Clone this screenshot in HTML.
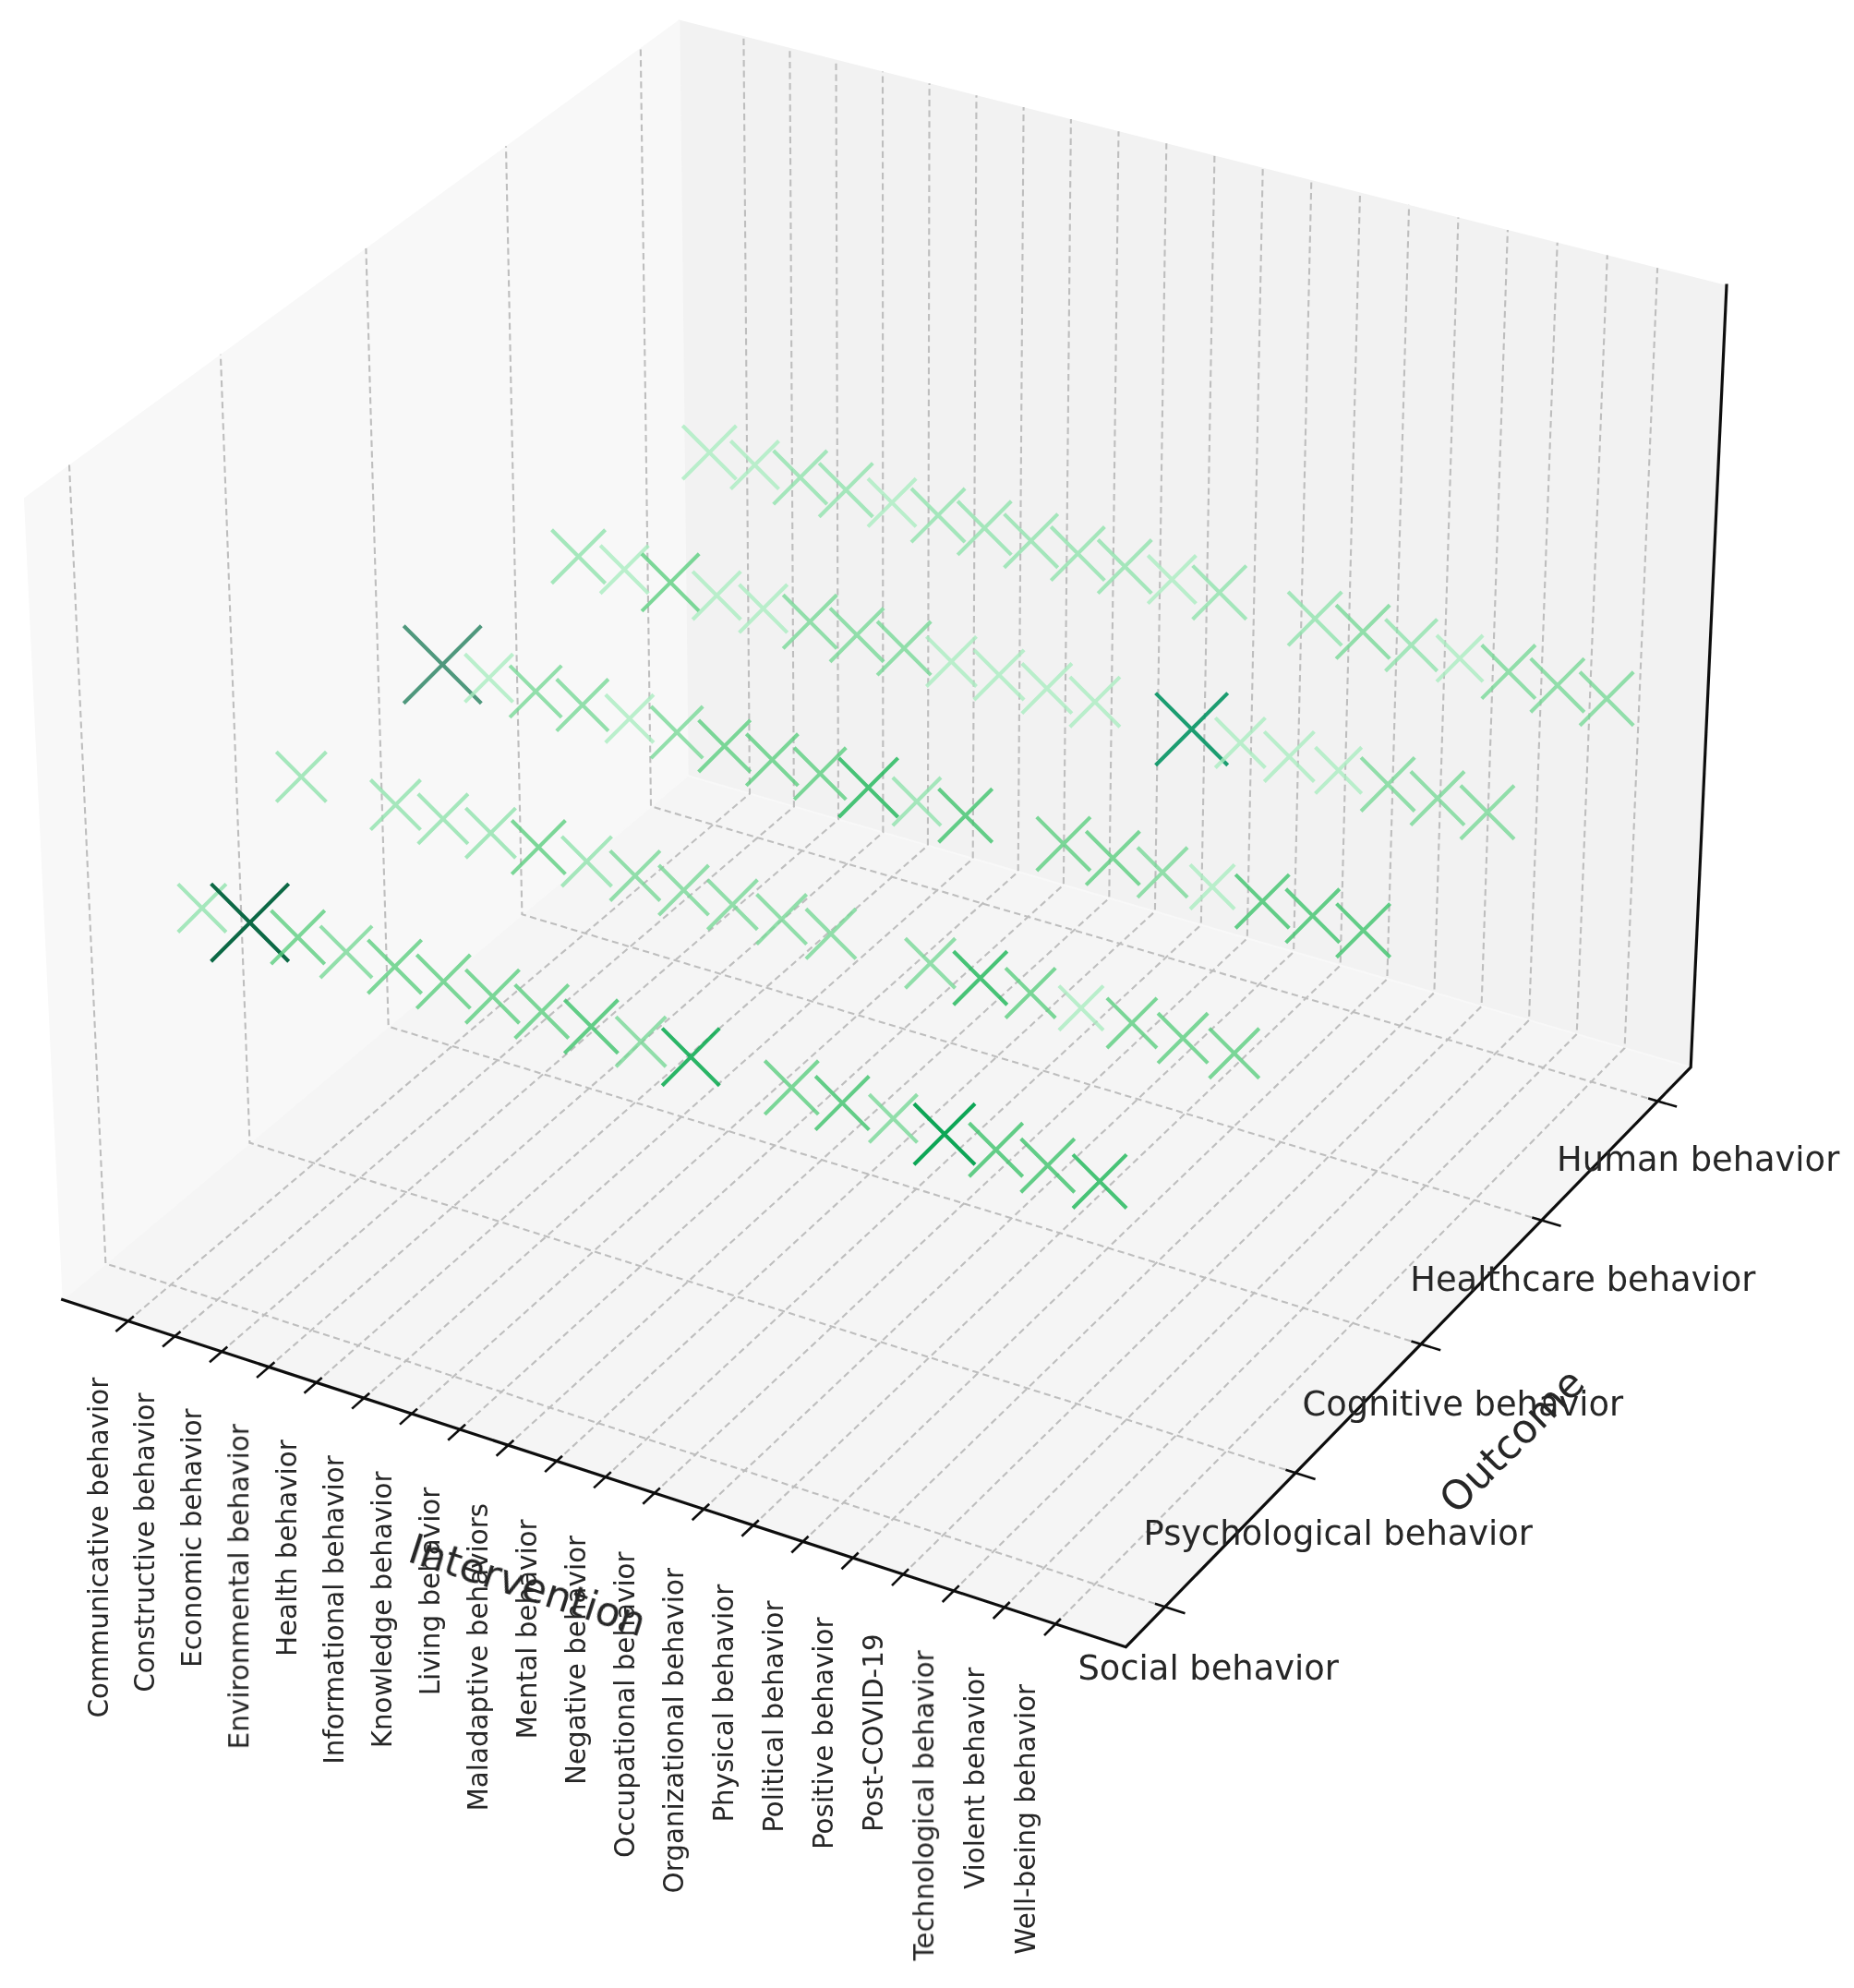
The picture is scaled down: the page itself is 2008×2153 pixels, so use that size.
<!DOCTYPE html>
<html><head><meta charset="utf-8"><title>3D scatter</title>
<style>html,body{margin:0;padding:0;background:#fff}svg{display:block}text{font-family:"DejaVu Sans","Liberation Sans",sans-serif;fill:#262626}</style></head><body>
<svg width="2008" height="2153" viewBox="0 0 2008 2153">
<defs><filter id="soft" x="0" y="0" width="2008" height="2153" filterUnits="userSpaceOnUse"><feGaussianBlur stdDeviation="0.75"/></filter></defs>
<rect width="2008" height="2153" fill="#ffffff"/>
<g filter="url(#soft)">
<polygon points="67.7,1407.5 25.9,539.3 735.4,21.5 744.8,840.0" fill="#f8f8f8"/>
<polygon points="744.8,840.0 735.4,21.5 1870.0,309.1 1831.2,1155.8" fill="#f2f2f2"/>
<polygon points="67.7,1407.5 744.8,840.0 1831.2,1155.8 1219.4,1783.7" fill="#f5f5f5"/>
<g fill="none" stroke="#f8f8f8" stroke-width="2">
<polyline points="67.7,1407.5 744.8,840.0 1831.2,1155.8"/>
<line x1="744.8" y1="840.0" x2="735.4" y2="21.5"/>
</g>
<g fill="none" stroke="#bebebe" stroke-width="2.1" stroke-dasharray="7.2 4.4">
<polyline points="138.6,1430.7 812.0,859.5 805.4,39.3"/>
<polyline points="189.2,1447.2 859.9,873.5 855.4,51.9"/>
<polyline points="240.1,1463.8 908.0,887.4 905.5,64.7"/>
<polyline points="291.2,1480.5 956.4,901.5 956.0,77.4"/>
<polyline points="342.5,1497.3 1004.9,915.6 1006.6,90.3"/>
<polyline points="394.1,1514.1 1053.7,929.8 1057.5,103.2"/>
<polyline points="446.0,1531.1 1102.7,944.0 1108.6,116.1"/>
<polyline points="498.0,1548.1 1151.9,958.3 1159.9,129.1"/>
<polyline points="550.4,1565.2 1201.3,972.7 1211.5,142.2"/>
<polyline points="603.0,1582.3 1250.9,987.1 1263.3,155.3"/>
<polyline points="655.8,1599.6 1300.8,1001.6 1315.4,168.5"/>
<polyline points="708.9,1616.9 1350.8,1016.2 1367.7,181.8"/>
<polyline points="762.3,1634.4 1401.1,1030.8 1420.3,195.1"/>
<polyline points="815.9,1651.9 1451.7,1045.5 1473.0,208.5"/>
<polyline points="869.8,1669.5 1502.4,1060.2 1526.1,221.9"/>
<polyline points="923.9,1687.2 1553.4,1075.0 1579.4,235.5"/>
<polyline points="978.3,1704.9 1604.6,1089.9 1632.9,249.0"/>
<polyline points="1033.0,1722.8 1656.0,1104.9 1686.7,262.7"/>
<polyline points="1087.9,1740.7 1707.7,1119.9 1740.8,276.4"/>
<polyline points="1143.2,1758.8 1759.6,1135.0 1795.1,290.1"/>
<polyline points="1261.7,1740.2 114.4,1368.4 75.0,503.5"/>
<polyline points="1403.1,1595.1 270.4,1237.6 238.9,383.8"/>
<polyline points="1539.0,1455.7 420.7,1111.7 396.4,268.9"/>
<polyline points="1669.7,1321.6 565.4,990.3 548.0,158.3"/>
<polyline points="1795.4,1192.5 705.0,873.3 693.8,51.8"/>
</g>
<g fill="none" stroke-linecap="butt" stroke-width="4.1">
<path d="M739.3 461.0L797.4 519.1M739.3 519.1L797.4 461.0" stroke="#aaecc0" stroke-opacity="0.80"/>
<path d="M791.4 477.5L843.5 529.6M791.4 529.6L843.5 477.5" stroke="#aaecc0" stroke-opacity="0.80"/>
<path d="M837.7 488.0L895.8 546.1M837.7 546.1L895.8 488.0" stroke="#90e2ac" stroke-opacity="0.80"/>
<path d="M887.2 501.6L945.3 559.7M887.2 559.7L945.3 501.6" stroke="#90e2ac" stroke-opacity="0.80"/>
<path d="M940.0 518.3L992.1 570.4M940.0 570.4L992.1 518.3" stroke="#aaecc0" stroke-opacity="0.80"/>
<path d="M987.0 529.0L1045.1 587.1M987.0 587.1L1045.1 529.0" stroke="#90e2ac" stroke-opacity="0.80"/>
<path d="M1037.2 542.8L1095.3 600.9M1037.2 600.9L1095.3 542.8" stroke="#90e2ac" stroke-opacity="0.80"/>
<path d="M1087.6 556.6L1145.7 614.7M1087.6 614.7L1145.7 556.6" stroke="#90e2ac" stroke-opacity="0.80"/>
<path d="M1138.3 570.5L1196.4 628.6M1138.3 628.6L1196.4 570.5" stroke="#90e2ac" stroke-opacity="0.80"/>
<path d="M597.5 573.7L655.6 631.8M597.5 631.8L655.6 573.7" stroke="#90e2ac" stroke-opacity="0.80"/>
<path d="M1189.2 584.5L1247.3 642.6M1189.2 642.6L1247.3 584.5" stroke="#90e2ac" stroke-opacity="0.80"/>
<path d="M650.2 590.7L702.3 642.8M650.2 642.8L702.3 590.7" stroke="#aaecc0" stroke-opacity="0.80"/>
<path d="M1243.3 601.5L1295.4 653.6M1243.3 653.6L1295.4 601.5" stroke="#aaecc0" stroke-opacity="0.80"/>
<path d="M695.1 599.8L757.2 661.9M695.1 661.9L757.2 599.8" stroke="#5bce80" stroke-opacity="0.80"/>
<path d="M1291.7 612.6L1349.8 670.7M1291.7 670.7L1349.8 612.6" stroke="#90e2ac" stroke-opacity="0.80"/>
<path d="M750.2 618.9L802.3 671.0M750.2 671.0L802.3 618.9" stroke="#aaecc0" stroke-opacity="0.80"/>
<path d="M800.6 633.0L852.7 685.1M800.6 685.1L852.7 633.0" stroke="#aaecc0" stroke-opacity="0.80"/>
<path d="M1395.1 641.0L1453.2 699.1M1395.1 699.1L1453.2 641.0" stroke="#90e2ac" stroke-opacity="0.80"/>
<path d="M848.2 644.3L906.3 702.4M848.2 702.4L906.3 644.3" stroke="#78d897" stroke-opacity="0.80"/>
<path d="M1447.1 655.3L1505.2 713.4M1447.1 713.4L1505.2 655.3" stroke="#78d897" stroke-opacity="0.80"/>
<path d="M899.0 658.6L957.1 716.7M899.0 716.7L957.1 658.6" stroke="#78d897" stroke-opacity="0.80"/>
<path d="M1500.5 670.6L1556.6 726.7M1500.5 726.7L1556.6 670.6" stroke="#90e2ac" stroke-opacity="0.80"/>
<path d="M950.1 673.0L1008.2 731.1M950.1 731.1L1008.2 673.0" stroke="#78d897" stroke-opacity="0.80"/>
<path d="M1556.0 688.0L1606.1 738.1M1556.0 738.1L1606.1 688.0" stroke="#aaecc0" stroke-opacity="0.80"/>
<path d="M1003.4 689.4L1057.5 743.5M1003.4 743.5L1057.5 689.4" stroke="#aaecc0" stroke-opacity="0.80"/>
<path d="M437.2 677.7L521.3 761.8M437.2 761.8L521.3 677.7" stroke="#26805e" stroke-opacity="0.80"/>
<path d="M1604.8 698.5L1662.9 756.6M1604.8 756.6L1662.9 698.5" stroke="#78d897" stroke-opacity="0.80"/>
<path d="M1055.0 703.9L1109.1 758.0M1055.0 758.0L1109.1 703.9" stroke="#aaecc0" stroke-opacity="0.80"/>
<path d="M503.5 708.3L555.6 760.4M503.5 760.4L555.6 708.3" stroke="#aaecc0" stroke-opacity="0.80"/>
<path d="M1657.8 713.1L1715.9 771.2M1657.8 771.2L1715.9 713.1" stroke="#78d897" stroke-opacity="0.80"/>
<path d="M1106.8 718.5L1160.9 772.6M1106.8 772.6L1160.9 718.5" stroke="#aaecc0" stroke-opacity="0.80"/>
<path d="M552.1 720.9L608.2 776.9M552.1 776.9L608.2 720.9" stroke="#78d897" stroke-opacity="0.80"/>
<path d="M1711.1 727.7L1769.2 785.8M1711.1 785.8L1769.2 727.7" stroke="#78d897" stroke-opacity="0.80"/>
<path d="M1158.8 733.1L1212.9 787.2M1158.8 787.2L1212.9 733.1" stroke="#aaecc0" stroke-opacity="0.80"/>
<path d="M602.8 735.5L658.9 791.6M602.8 791.6L658.9 735.5" stroke="#78d897" stroke-opacity="0.80"/>
<path d="M655.8 752.2L707.9 804.3M655.8 804.3L707.9 752.2" stroke="#aaecc0" stroke-opacity="0.80"/>
<path d="M1251.6 750.6L1329.7 828.7M1251.6 828.7L1329.7 750.6" stroke="#069463" stroke-opacity="0.90"/>
<path d="M705.1 765.0L761.2 821.1M705.1 821.1L761.2 765.0" stroke="#78d897" stroke-opacity="0.80"/>
<path d="M1316.3 777.4L1370.4 831.5M1316.3 831.5L1370.4 777.4" stroke="#aaecc0" stroke-opacity="0.80"/>
<path d="M756.6 779.9L812.7 836.0M756.6 836.0L812.7 779.9" stroke="#5bce80" stroke-opacity="0.80"/>
<path d="M1369.3 792.4L1423.4 846.5M1369.3 846.5L1423.4 792.4" stroke="#aaecc0" stroke-opacity="0.80"/>
<path d="M808.3 794.8L864.4 850.9M808.3 850.9L864.4 794.8" stroke="#5bce80" stroke-opacity="0.80"/>
<path d="M1424.6 809.3L1474.7 859.4M1424.6 859.4L1474.7 809.3" stroke="#aaecc0" stroke-opacity="0.80"/>
<path d="M860.2 809.8L916.3 865.9M860.2 865.9L916.3 809.8" stroke="#5bce80" stroke-opacity="0.80"/>
<path d="M299.3 814.3L353.4 868.4M299.3 868.4L353.4 814.3" stroke="#90e2ac" stroke-opacity="0.80"/>
<path d="M1474.1 820.4L1532.2 878.5M1474.1 878.5L1532.2 820.4" stroke="#78d897" stroke-opacity="0.80"/>
<path d="M908.5 820.9L972.6 885.0M908.5 885.0L972.6 820.9" stroke="#1ab656" stroke-opacity="0.80"/>
<path d="M1527.9 835.5L1586.0 893.6M1527.9 893.6L1586.0 835.5" stroke="#78d897" stroke-opacity="0.80"/>
<path d="M966.9 842.0L1019.0 894.1M966.9 894.1L1019.0 842.0" stroke="#90e2ac" stroke-opacity="0.80"/>
<path d="M401.4 844.5L455.5 898.6M401.4 898.6L455.5 844.5" stroke="#90e2ac" stroke-opacity="0.80"/>
<path d="M1581.9 850.7L1640.0 908.8M1581.9 908.8L1640.0 850.7" stroke="#78d897" stroke-opacity="0.80"/>
<path d="M1016.6 854.2L1074.7 912.3M1016.6 912.3L1074.7 854.2" stroke="#3dc36b" stroke-opacity="0.80"/>
<path d="M452.8 859.8L506.9 913.9M452.8 913.9L506.9 859.8" stroke="#90e2ac" stroke-opacity="0.80"/>
<path d="M504.4 875.1L558.5 929.2M504.4 929.2L558.5 875.1" stroke="#90e2ac" stroke-opacity="0.80"/>
<path d="M1122.8 884.9L1180.9 943.0M1122.8 943.0L1180.9 884.9" stroke="#5bce80" stroke-opacity="0.80"/>
<path d="M554.3 888.5L612.4 946.6M554.3 946.6L612.4 888.5" stroke="#5bce80" stroke-opacity="0.80"/>
<path d="M1176.3 900.3L1234.4 958.4M1176.3 958.4L1234.4 900.3" stroke="#5bce80" stroke-opacity="0.80"/>
<path d="M608.4 905.9L662.5 960.0M608.4 960.0L662.5 905.9" stroke="#90e2ac" stroke-opacity="0.80"/>
<path d="M1232.0 917.8L1286.1 971.9M1232.0 971.9L1286.1 917.8" stroke="#78d897" stroke-opacity="0.80"/>
<path d="M660.8 921.4L714.9 975.5M660.8 975.5L714.9 921.4" stroke="#78d897" stroke-opacity="0.80"/>
<path d="M1289.0 936.4L1337.1 984.5M1289.0 984.5L1337.1 936.4" stroke="#aaecc0" stroke-opacity="0.80"/>
<path d="M713.5 937.0L767.5 991.1M713.5 991.1L767.5 937.0" stroke="#78d897" stroke-opacity="0.80"/>
<path d="M1338.2 947.1L1396.3 1005.2M1338.2 1005.2L1396.3 947.1" stroke="#3dc36b" stroke-opacity="0.80"/>
<path d="M766.3 952.7L820.4 1006.8M766.3 1006.8L820.4 952.7" stroke="#78d897" stroke-opacity="0.80"/>
<path d="M192.8 957.4L244.9 1009.5M192.8 1009.5L244.9 957.4" stroke="#90e2ac" stroke-opacity="0.80"/>
<path d="M1392.7 962.8L1450.8 1020.9M1392.7 1020.9L1450.8 962.8" stroke="#3dc36b" stroke-opacity="0.80"/>
<path d="M819.5 968.5L873.6 1022.6M819.5 1022.6L873.6 968.5" stroke="#78d897" stroke-opacity="0.80"/>
<path d="M228.6 957.1L312.7 1041.2M228.6 1041.2L312.7 957.1" stroke="#086844" stroke-opacity="1.00"/>
<path d="M1447.5 978.6L1505.6 1036.7M1447.5 1036.7L1505.6 978.6" stroke="#3dc36b" stroke-opacity="0.80"/>
<path d="M872.9 984.3L927.0 1038.4M872.9 1038.4L927.0 984.3" stroke="#78d897" stroke-opacity="0.80"/>
<path d="M293.6 986.0L351.7 1044.1M293.6 1044.1L351.7 986.0" stroke="#5bce80" stroke-opacity="0.80"/>
<path d="M346.9 1002.9L403.0 1059.0M346.9 1059.0L403.0 1002.9" stroke="#78d897" stroke-opacity="0.80"/>
<path d="M980.5 1016.2L1034.6 1070.3M980.5 1070.3L1034.6 1016.2" stroke="#78d897" stroke-opacity="0.80"/>
<path d="M398.5 1017.9L456.6 1076.0M398.5 1076.0L456.6 1017.9" stroke="#5bce80" stroke-opacity="0.80"/>
<path d="M1032.7 1030.2L1090.8 1088.3M1032.7 1088.3L1090.8 1030.2" stroke="#1ab656" stroke-opacity="0.80"/>
<path d="M451.3 1034.0L509.4 1092.1M451.3 1092.1L509.4 1034.0" stroke="#5bce80" stroke-opacity="0.80"/>
<path d="M1089.1 1048.4L1143.2 1102.5M1089.1 1102.5L1143.2 1048.4" stroke="#5bce80" stroke-opacity="0.80"/>
<path d="M504.4 1050.1L562.5 1108.2M504.4 1108.2L562.5 1050.1" stroke="#5bce80" stroke-opacity="0.80"/>
<path d="M1146.9 1067.6L1195.0 1115.7M1146.9 1115.7L1195.0 1067.6" stroke="#aaecc0" stroke-opacity="0.80"/>
<path d="M557.7 1066.4L615.8 1124.5M557.7 1124.5L615.8 1066.4" stroke="#5bce80" stroke-opacity="0.80"/>
<path d="M1198.9 1080.9L1253.0 1135.0M1198.9 1135.0L1253.0 1080.9" stroke="#5bce80" stroke-opacity="0.80"/>
<path d="M611.3 1082.7L669.4 1140.8M611.3 1140.8L669.4 1082.7" stroke="#3dc36b" stroke-opacity="0.80"/>
<path d="M1254.1 1097.3L1308.2 1151.4M1254.1 1151.4L1308.2 1097.3" stroke="#5bce80" stroke-opacity="0.80"/>
<path d="M667.1 1101.1L721.2 1155.2M667.1 1155.2L721.2 1101.1" stroke="#78d897" stroke-opacity="0.80"/>
<path d="M1309.7 1113.7L1363.8 1167.8M1309.7 1167.8L1363.8 1113.7" stroke="#5bce80" stroke-opacity="0.80"/>
<path d="M717.2 1113.6L779.3 1175.7M717.2 1175.7L779.3 1113.6" stroke="#07a94c" stroke-opacity="0.85"/>
<path d="M828.3 1148.8L886.4 1206.9M828.3 1206.9L886.4 1148.8" stroke="#5bce80" stroke-opacity="0.80"/>
<path d="M883.2 1165.5L941.3 1223.6M883.2 1223.6L941.3 1165.5" stroke="#3dc36b" stroke-opacity="0.80"/>
<path d="M941.4 1185.3L993.5 1237.4M941.4 1237.4L993.5 1185.3" stroke="#78d897" stroke-opacity="0.80"/>
<path d="M989.9 1195.2L1056.0 1261.3M989.9 1261.3L1056.0 1195.2" stroke="#02a14e" stroke-opacity="0.95"/>
<path d="M1049.6 1216.2L1107.7 1274.3M1049.6 1274.3L1107.7 1216.2" stroke="#3dc36b" stroke-opacity="0.80"/>
<path d="M1105.7 1233.2L1163.8 1291.3M1105.7 1291.3L1163.8 1233.2" stroke="#3dc36b" stroke-opacity="0.80"/>
<path d="M1162.0 1250.4L1220.1 1308.5M1162.0 1308.5L1220.1 1250.4" stroke="#1ab656" stroke-opacity="0.80"/>
</g>
<g fill="none" stroke="#111" stroke-width="3.2" stroke-linecap="square" stroke-linejoin="miter">
<polyline points="67.7,1407.5 1219.4,1783.7 1831.2,1155.8 1870.0,309.1"/>
</g>
<g fill="none" stroke="#111" stroke-width="2.6" stroke-linecap="butt">
<line x1="144.9" y1="1425.4" x2="125.4" y2="1441.9"/>
<line x1="195.5" y1="1441.9" x2="176.1" y2="1458.5"/>
<line x1="246.3" y1="1458.5" x2="227.0" y2="1475.2"/>
<line x1="297.4" y1="1475.2" x2="278.1" y2="1491.9"/>
<line x1="348.7" y1="1491.9" x2="329.5" y2="1508.7"/>
<line x1="400.2" y1="1508.7" x2="381.2" y2="1525.6"/>
<line x1="452.0" y1="1525.6" x2="433.0" y2="1542.6"/>
<line x1="504.1" y1="1542.6" x2="485.2" y2="1559.7"/>
<line x1="556.4" y1="1559.7" x2="537.6" y2="1576.8"/>
<line x1="609.0" y1="1576.8" x2="590.2" y2="1594.1"/>
<line x1="661.8" y1="1594.1" x2="643.1" y2="1611.4"/>
<line x1="714.9" y1="1611.4" x2="696.3" y2="1628.8"/>
<line x1="768.2" y1="1628.8" x2="749.7" y2="1646.3"/>
<line x1="821.8" y1="1646.3" x2="803.4" y2="1663.8"/>
<line x1="875.6" y1="1663.8" x2="857.3" y2="1681.5"/>
<line x1="929.7" y1="1681.5" x2="911.5" y2="1699.2"/>
<line x1="984.1" y1="1699.2" x2="966.0" y2="1717.1"/>
<line x1="1038.8" y1="1717.1" x2="1020.7" y2="1735.0"/>
<line x1="1093.7" y1="1735.0" x2="1075.7" y2="1753.0"/>
<line x1="1148.9" y1="1753.0" x2="1131.0" y2="1771.1"/>
<line x1="1250.9" y1="1736.7" x2="1283.5" y2="1747.3"/>
<line x1="1392.4" y1="1591.7" x2="1424.6" y2="1601.9"/>
<line x1="1528.4" y1="1452.4" x2="1560.2" y2="1462.2"/>
<line x1="1659.3" y1="1318.4" x2="1690.6" y2="1327.8"/>
<line x1="1785.1" y1="1189.5" x2="1816.1" y2="1198.6"/>
</g>
<g font-size="29.4" text-anchor="end">
<text transform="translate(116.6,1491.7) rotate(-90)">Communicative behavior</text>
<text transform="translate(167.2,1508.5) rotate(-90)">Constructive behavior</text>
<text transform="translate(218.1,1525.3) rotate(-90)">Economic behavior</text>
<text transform="translate(269.2,1542.2) rotate(-90)">Environmental behavior</text>
<text transform="translate(320.5,1559.2) rotate(-90)">Health behavior</text>
<text transform="translate(372.1,1576.2) rotate(-90)">Informational behavior</text>
<text transform="translate(424.0,1593.4) rotate(-90)">Knowledge behavior</text>
<text transform="translate(476.1,1610.6) rotate(-90)">Living behavior</text>
<text transform="translate(528.4,1627.9) rotate(-90)">Maladaptive behaviors</text>
<text transform="translate(581.0,1645.3) rotate(-90)">Mental behavior</text>
<text transform="translate(633.9,1662.8) rotate(-90)">Negative behavior</text>
<text transform="translate(687.0,1680.3) rotate(-90)">Occupational behavior</text>
<text transform="translate(740.3,1698.0) rotate(-90)">Organizational behavior</text>
<text transform="translate(794.0,1715.7) rotate(-90)">Physical behavior</text>
<text transform="translate(847.9,1733.5) rotate(-90)">Political behavior</text>
<text transform="translate(902.0,1751.4) rotate(-90)">Positive behavior</text>
<text transform="translate(956.4,1769.4) rotate(-90)">Post-COVID-19</text>
<text transform="translate(1011.1,1787.4) rotate(-90)">Technological behavior</text>
<text transform="translate(1066.1,1805.6) rotate(-90)">Violent behavior</text>
<text transform="translate(1121.3,1823.8) rotate(-90)">Well-being behavior</text>
</g>
<g font-size="36.85" text-anchor="middle">
<text x="1308.7" y="1819.1">Social behavior</text>
<text x="1449.3" y="1673.3">Psychological behavior</text>
<text x="1584.4" y="1533.1">Cognitive behavior</text>
<text x="1714.3" y="1398.2">Healthcare behavior</text>
<text x="1839.2" y="1268.4">Human behavior</text>
</g>
<g font-size="43.7" text-anchor="middle">
<text transform="translate(566.6,1731.6) rotate(17.93)">Intervention</text>
<text transform="translate(1648.0,1571.0) rotate(-45)">Outcome</text>
</g>
</g>
</svg></body></html>
